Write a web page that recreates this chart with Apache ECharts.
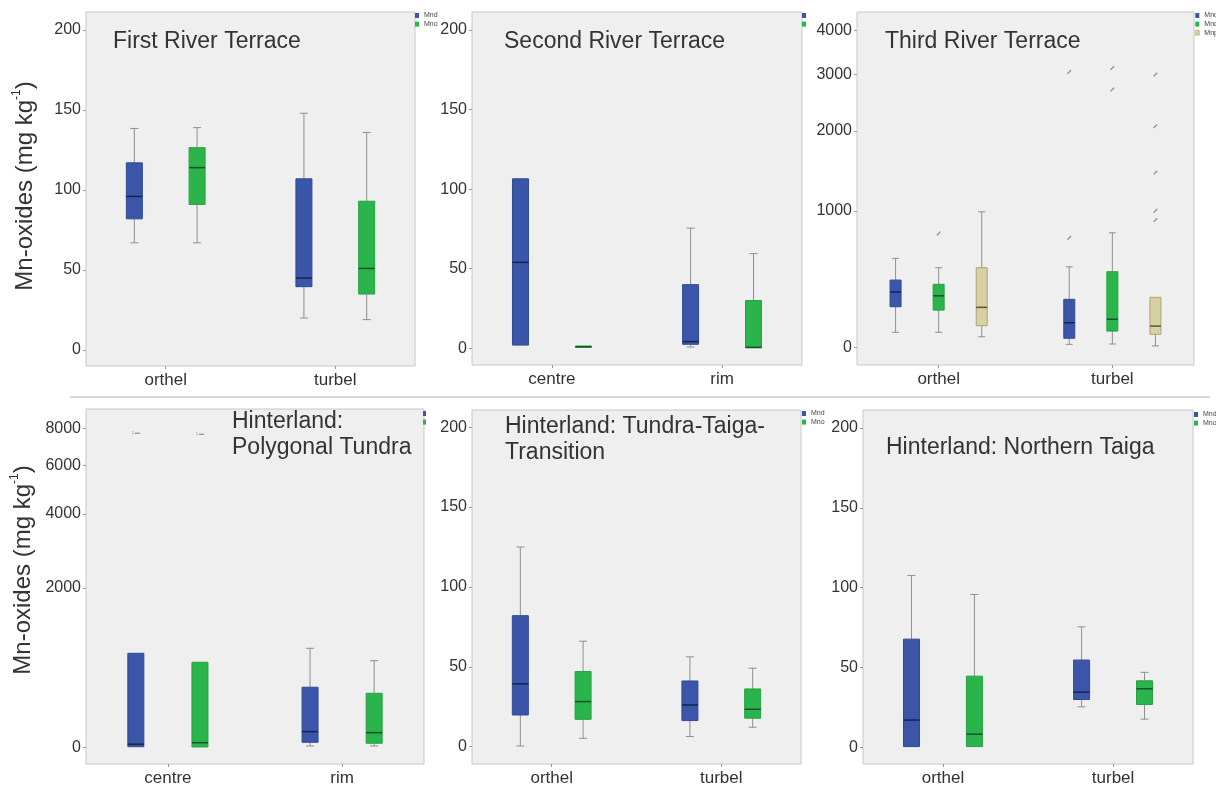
<!DOCTYPE html>
<html>
<head>
<meta charset="utf-8">
<script src="https://cdn.jsdelivr.net/npm/echarts@6/dist/echarts.min.js"></script>
<style>
  html, body { margin: 0; padding: 0; background: #ffffff; }
  #chart { width: 1216px; height: 788px; }
</style>
</head>
<body>
<div id="chart"></div>
<script>
// Mn-oxide fractions per soil group. Each box is [min, Q1, median, Q3, max] in mg/kg.
const seriesNames = ['Mnd', 'Mno', 'Mnp'];

const terrace1Categories = ['orthel', 'turbel'];
const terrace1Mnd = [[67, 82, 96, 117, 138.5], [20, 39.6, 45, 107, 148]];
const terrace1Mno = [[67, 91, 114, 126.5, 139], [19, 35, 51, 93, 136]];

const terrace2Categories = ['centre', 'rim'];
const terrace2Mnd = [[2, 2, 54, 106.5, 106.5], [0.8, 2.5, 4.2, 40, 75.5]];
const terrace2Mno = [[0.6, 0.6, 1.0, 1.4, 1.4], [0.3, 0.3, 0.6, 30, 59.5]];

const terrace3Categories = ['orthel', 'turbel'];
const terrace3Mnd = [[81, 231, 326, 409, 573], [17, 49, 135, 278, 507]];
const terrace3Mno = [[81, 210, 301, 379, 500], [19, 88, 155, 470, 791]];
const terrace3Mnp = [[57, 118, 227, 500, 992], [9, 70, 116, 291, 291]];
const terrace3MndOutliers = [[], [746, 3048]];
const terrace3MnoOutliers = [[785], [2703, 3130]];
const terrace3MnpOutliers = [[], [910, 1002, 1431, 2074, 2995]];

const tundraCategories = ['centre', 'rim'];
const tundraMnd = [[4, 4, 21, 912, 912], [9, 35, 114, 513, 979]];
const tundraMno = [[2, 2, 32, 797, 797], [9, 28, 106, 451, 817]];
const tundraMndOutliers = [[7720], []];
const tundraMnoOutliers = [[7660], []];

const transitionCategories = ['orthel', 'turbel'];
const transitionMnd = [[0.4, 19.8, 39.3, 82, 125], [6.3, 16.3, 26.1, 41.1, 56.2]];
const transitionMno = [[5.2, 17.1, 28.2, 47, 66], [12.1, 17.8, 23.4, 36.1, 49.1]];

const taigaCategories = ['orthel', 'turbel'];
const taigaMnd = [[0.5, 0.5, 17.1, 67.8, 107.7], [25.4, 30, 34.6, 54.7, 75.5]];
const taigaMno = [[0.5, 0.5, 8.3, 44.6, 95.8], [17.7, 26.9, 36.7, 41.7, 47]];

const linearTicks = [0, 50, 100, 150, 200];
const terrace3Ticks = [0, 1000, 2000, 3000, 4000];
const tundraTicks = [0, 2000, 4000, 6000, 8000];

// ---- styling ----
const FONT = '"Liberation Sans", Arial, sans-serif';
const TEXT = '#333333';
const fills = ['#3b56a9', '#2bb44b', '#d7d0a0'];
const borders = ['#304a96', '#23a242', '#aba47a'];
const medians = ['#17224e', '#14532a', '#5b5432'];
const WHISKER = '#8f8f8f';
const OUTLIER = '#8a8a8a';

// y scales: plain linear, or log of (value + 1000) for the wide-range panels
const linearScale = { fwd: v => v, inv: t => t };
const shiftedLogScale = { fwd: v => Math.log(v + 1000), inv: t => Math.exp(t) - 1000 };

const X_RANGE = [-0.47, 1.47];

const panels = [
  { title: 'First River Terrace', titlePos: [113, 29],
    grid: { left: 86, top: 12, width: 329, height: 354 },
    cats: terrace1Categories, groups: [terrace1Mnd, terrace1Mno], outliers: null,
    ticks: linearTicks, yRange: [-10, 211.3], scale: linearScale,
    legend: { left: 415, top: 12, text: true }, boxHalf: 8, capHalf: 4, dodge: 0.185 },
  { title: 'Second River Terrace', titlePos: [504, 29],
    grid: { left: 472, top: 12, width: 330, height: 353 },
    cats: terrace2Categories, groups: [terrace2Mnd, terrace2Mno], outliers: null,
    ticks: linearTicks, yRange: [-10.5, 211.3], scale: linearScale,
    legend: { left: 802, top: 12, text: false }, boxHalf: 8, capHalf: 4, dodge: 0.185 },
  { title: 'Third River Terrace', titlePos: [885, 29],
    grid: { left: 857, top: 12, width: 337, height: 353 },
    cats: terrace3Categories, groups: [terrace3Mnd, terrace3Mno, terrace3Mnp],
    outliers: [terrace3MndOutliers, terrace3MnoOutliers, terrace3MnpOutliers], glyph: 'slash',
    ticks: terrace3Ticks, yRange: [-84, 4486], scale: shiftedLogScale,
    legend: { left: 1195, top: 12, text: true }, boxHalf: 5.5, capHalf: 3.5, dodge: 0.248 },
  { title: 'Hinterland:\nPolygonal Tundra', titlePos: [232, 409],
    grid: { left: 86, top: 409, width: 338, height: 355 },
    cats: tundraCategories, groups: [tundraMnd, tundraMno],
    outliers: [tundraMndOutliers, tundraMnoOutliers], glyph: 'dash',
    ticks: tundraTicks, yRange: [-109, 9309], scale: shiftedLogScale,
    legend: { left: 423, top: 410, text: false, narrow: true }, boxHalf: 8, capHalf: 4, dodge: 0.184 },
  { title: 'Hinterland: Tundra-Taiga-\nTransition', titlePos: [505, 414],
    grid: { left: 472, top: 410, width: 329, height: 354 },
    cats: transitionCategories, groups: [transitionMnd, transitionMno], outliers: null,
    ticks: linearTicks, yRange: [-10.9, 210.8], scale: linearScale,
    legend: { left: 802, top: 410, text: true }, boxHalf: 8, capHalf: 4, dodge: 0.185 },
  { title: 'Hinterland: Northern Taiga', titlePos: [886, 435],
    grid: { left: 863, top: 410, width: 330, height: 354 },
    cats: taigaCategories, groups: [taigaMnd, taigaMno], outliers: null,
    ticks: linearTicks, yRange: [-10.4, 211.3], scale: linearScale,
    legend: { left: 1194, top: 411, text: true }, boxHalf: 8, capHalf: 4, dodge: 0.185 }
];

function dodgeOffsets(n, d) {
  return n === 3 ? [-d, 0, d] : [-d, d];
}

function seg(x1, y1, x2, y2, style) {
  return { type: 'line', shape: { x1, y1, x2, y2 }, style };
}

// box with grey whiskers, coloured body and a dark median bar
function boxRenderer(offset, halfW, capHalf, g) {
  return function (params, api) {
    const c = api.value(0) + offset;
    const vals = [1, 2, 3, 4, 5].map(k => api.value(k));
    const pts = vals.map(v => api.coord([c, v]));
    const x = pts[0][0];
    const [yMin, yQ1, yMed, yQ3, yMax] = pts.map(p => p[1]);
    const w = { stroke: WHISKER, lineWidth: 1 };
    const children = [];
    if (vals[4] > vals[3]) {
      children.push(seg(x, yQ3, x, yMax, w), seg(x - capHalf, yMax, x + capHalf, yMax, w));
    }
    if (vals[0] < vals[1]) {
      children.push(seg(x, yQ1, x, yMin, w), seg(x - capHalf, yMin, x + capHalf, yMin, w));
    }
    children.push({
      type: 'rect',
      shape: { x: x - halfW, y: yQ3, width: 2 * halfW, height: Math.max(yQ1 - yQ3, 1) },
      style: { fill: fills[g], stroke: borders[g], lineWidth: 1 }
    });
    children.push(seg(x - halfW, yMed, x + halfW, yMed, { stroke: medians[g], lineWidth: 1.5 }));
    return { type: 'group', children };
  };
}

// small grey marks for extreme values
function outlierRenderer(offset, glyph) {
  return function (params, api) {
    const p = api.coord([api.value(0) + offset, api.value(1)]);
    const x = p[0], y = p[1];
    const s = { stroke: OUTLIER, lineWidth: 1.2 };
    if (glyph === 'dash') {
      return { type: 'group', children: [
        seg(x - 3, y - 2, x - 3, y + 2, { stroke: OUTLIER, lineWidth: 1, lineDash: [1, 1] }),
        seg(x - 1, y, x + 4, y, s)
      ] };
    }
    return { type: 'group', children: [
      seg(x - 1.8, y + 1.8, x + 1.8, y - 1.8, s)
    ] };
  };
}

const grid = [], xAxis = [], yAxis = [], series = [], legend = [], title = [];

panels.forEach((p, i) => {
  grid.push(Object.assign({
    show: true, backgroundColor: '#efefef', borderColor: '#c8c8c8', borderWidth: 1
  }, p.grid));

  xAxis.push({
    type: 'value', gridIndex: i, min: X_RANGE[0], max: X_RANGE[1], position: 'bottom',
    axisLine: { show: false, onZero: false }, splitLine: { show: false },
    axisTick: { show: true, length: 3, customValues: [0, 1], lineStyle: { color: '#9a9a9a' } },
    axisLabel: {
      customValues: [0, 1], formatter: v => p.cats[Math.round(v)],
      fontSize: 17, color: TEXT, fontFamily: FONT, margin: 6
    }
  });

  const tickPos = p.ticks.map(p.scale.fwd);
  yAxis.push({
    type: 'value', gridIndex: i, position: 'left',
    min: p.scale.fwd(p.yRange[0]), max: p.scale.fwd(p.yRange[1]),
    axisLine: { show: false, onZero: false }, splitLine: { show: false },
    axisTick: { show: true, length: 3, customValues: tickPos, lineStyle: { color: '#9a9a9a' } },
    axisLabel: {
      customValues: tickPos, formatter: v => String(Math.round(p.scale.inv(v))),
      fontSize: 16, color: TEXT, fontFamily: FONT, margin: 5
    }
  });

  const offsets = dodgeOffsets(p.groups.length, p.dodge);
  p.groups.forEach((boxes, g) => {
    series.push({
      type: 'custom', name: seriesNames[g], xAxisIndex: i, yAxisIndex: i,
      itemStyle: { color: fills[g] }, silent: true, z: 3,
      encode: { x: 0, y: [1, 2, 3, 4, 5] },
      data: boxes.map((b, c) => [c].concat(b.map(p.scale.fwd))),
      renderItem: boxRenderer(offsets[g], p.boxHalf, p.capHalf, g)
    });
    if (p.outliers) {
      const pts = [];
      p.outliers[g].forEach((vals, c) => vals.forEach(v => pts.push([c, p.scale.fwd(v)])));
      if (pts.length) {
        series.push({
          type: 'custom', xAxisIndex: i, yAxisIndex: i, silent: true, z: 4,
          encode: { x: 0, y: 1 }, data: pts,
          renderItem: outlierRenderer(offsets[g], p.glyph)
        });
      }
    }
  });

  legend.push({
    orient: 'vertical', left: p.legend.left, top: p.legend.top, padding: 0,
    icon: 'rect', itemWidth: p.legend.narrow ? 3 : 4, itemHeight: 5, itemGap: 1.6,
    selectedMode: false,
    textStyle: {
      fontSize: 7, lineHeight: 7, fontFamily: FONT,
      color: p.legend.text ? '#444444' : 'rgba(0,0,0,0)'
    },
    data: p.groups.map((b, g) => ({
      name: seriesNames[g], itemStyle: { color: fills[g], borderColor: borders[g], borderWidth: g === 2 ? 0.6 : 0 }
    }))
  });

  title.push({
    text: p.title, left: p.titlePos[0], top: p.titlePos[1], padding: 0,
    textStyle: { fontSize: 23, fontWeight: 'normal', color: TEXT, fontFamily: FONT, lineHeight: 26 }
  });
});

function yTitle(x, y) {
  return {
    type: 'text', x, y, rotation: Math.PI / 2, silent: true,
    style: {
      text: '{m|Mn-oxides (mg kg}{s|-1}{m|)}',
      align: 'center', verticalAlign: 'middle', fill: TEXT,
      rich: {
        m: { fontSize: 24, lineHeight: 28, fontFamily: FONT, fill: TEXT },
        s: { fontSize: 12, lineHeight: 13, fontFamily: FONT, fill: TEXT, verticalAlign: 'top' }
      }
    }
  };
}

const chart = echarts.init(document.getElementById('chart'), null, { renderer: 'canvas' });
chart.setOption({
  animation: false,
  backgroundColor: '#ffffff',
  title, grid, xAxis, yAxis, legend, series,
  graphic: [
    yTitle(25, 186),
    yTitle(23, 570),
    { type: 'line', silent: true, shape: { x1: 70, y1: 397, x2: 1210, y2: 397 },
      style: { stroke: '#d6d6d6', lineWidth: 2 } }
  ]
});
</script>
</body>
</html>
